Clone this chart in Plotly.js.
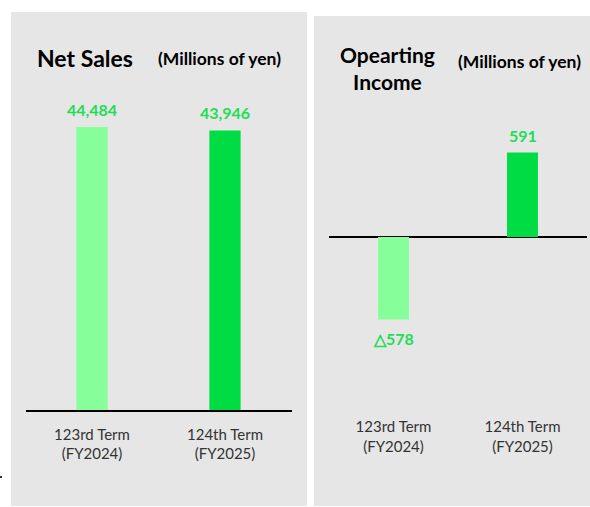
<!DOCTYPE html>
<html><head><meta charset="utf-8">
<script src="https://cdn.plot.ly/plotly-3.0.1.min.js"></script>
<style>html,body{margin:0;padding:0;background:#fff}#chart{width:590px;height:507px}</style>
</head><body><div id="chart"></div>
<script>
const categoryKeys = ["FY2024", "FY2025"];
const tickLabels = ["123rd Term<br>(FY2024)", "124th Term<br>(FY2025)"];
const netSales = [44484, 43946];
const operatingIncome = [-578, 591];
const barColors = ["#86FF9A", "#00DD44"];
const titles = ["Net Sales", "Opearting<br>Income"];
const unitLabel = "(Millions of yen)";

const W = 590, H = 507;
const px = v => v / W;
const py = v => (H - v) / H;
const FONT = "Lato, 'Open Sans', sans-serif";
const GREEN_TEXT = "#22DD55";

function fmt(v) {
  const s = Math.abs(v).toLocaleString("en-US");
  return v < 0 ? "\u25B3" + s : s;
}

const traces = [
  {type: "bar", x: categoryKeys, y: netSales, xaxis: "x", yaxis: "y",
   marker: {color: barColors}, width: 0.235, hoverinfo: "none"},
  {type: "bar", x: categoryKeys, y: operatingIncome, xaxis: "x2", yaxis: "y2",
   marker: {color: barColors}, width: 0.24, hoverinfo: "none"}
];

const annotations = [];
netSales.forEach((v, i) => annotations.push({
  xref: "x", yref: "y", x: categoryKeys[i], y: v, text: "<b>" + fmt(v) + "</b>",
  showarrow: false, yanchor: "bottom", yshift: 6,
  font: {family: FONT, size: 16, color: GREEN_TEXT}
}));
operatingIncome.forEach((v, i) => annotations.push({
  xref: "x2", yref: "y2", x: categoryKeys[i], y: v, text: "<b>" + fmt(v) + "</b>",
  showarrow: false, yanchor: v < 0 ? "top" : "bottom", yshift: v < 0 ? -7 : 6,
  font: {family: FONT, size: 16, color: GREEN_TEXT}
}));
annotations.push(
  {xref: "paper", yref: "paper", x: px(85), y: py(58), text: "<b>" + titles[0] + "</b>",
   showarrow: false, xanchor: "center", yanchor: "middle", font: {family: FONT, size: 23, color: "#000"}},
  {xref: "paper", yref: "paper", x: px(219), y: py(58), text: "<b>" + unitLabel + "</b>",
   showarrow: false, xanchor: "center", yanchor: "middle", font: {family: FONT, size: 17.5, color: "#000"}},
  {xref: "paper", yref: "paper", x: px(387), y: py(68), text: "<b>" + titles[1] + "</b>",
   showarrow: false, xanchor: "center", yanchor: "middle", font: {family: FONT, size: 21, color: "#000"}},
  {xref: "paper", yref: "paper", x: px(519), y: py(62), text: "<b>" + unitLabel + "</b>",
   showarrow: false, xanchor: "center", yanchor: "middle", font: {family: FONT, size: 17.5, color: "#000"}}
);

const axisCommon = {showgrid: false, showticklabels: false, ticks: "", fixedrange: true};
const layout = {
  width: W, height: H,
  margin: {l: 0, r: 0, t: 0, b: 0},
  paper_bgcolor: "#FFFFFF", plot_bgcolor: "rgba(0,0,0,0)",
  showlegend: false,
  xaxis: {domain: [px(25.5), px(291.5)], type: "category", range: [-0.5, 1.5],
          tickvals: categoryKeys, ticktext: tickLabels, ticks: "", showgrid: false,
          showline: true, linecolor: "#000", linewidth: 1.5, ticklabelstandoff: 10,
          tickfont: {family: FONT, size: 15, color: "#333"}},
  yaxis: Object.assign({}, axisCommon, {domain: [py(410), py(100)], range: [0, 48732], zeroline: false}),
  xaxis2: {domain: [px(329), px(587)], type: "category", range: [-0.5, 1.5], anchor: "y2",
           tickvals: categoryKeys, ticktext: tickLabels, ticks: "", showgrid: false,
           showline: false, ticklabelstandoff: 10,
           tickfont: {family: FONT, size: 15, color: "#333"}},
  yaxis2: Object.assign({}, axisCommon, {domain: [py(406), py(140)], range: [-1183, 679], anchor: "x2",
           zeroline: true, zerolinecolor: "#000", zerolinewidth: 1.5}),
  shapes: [
    {type: "rect", xref: "paper", yref: "paper", x0: px(11), x1: px(307), y0: py(506), y1: py(12),
     fillcolor: "#E6E6E6", line: {width: 0}, layer: "below"},
    {type: "rect", xref: "paper", yref: "paper", x0: px(314), x1: 1, y0: py(506), y1: py(16),
     fillcolor: "#E6E6E6", line: {width: 0}, layer: "below"},
    {type: "rect", xref: "paper", yref: "paper", x0: 0, x1: px(2), y0: py(478), y1: py(476),
     fillcolor: "#333", line: {width: 0}, layer: "below"}
  ],
  annotations: annotations
};
Plotly.newPlot("chart", traces, layout, {displayModeBar: false, staticPlot: true});
</script></body></html>
